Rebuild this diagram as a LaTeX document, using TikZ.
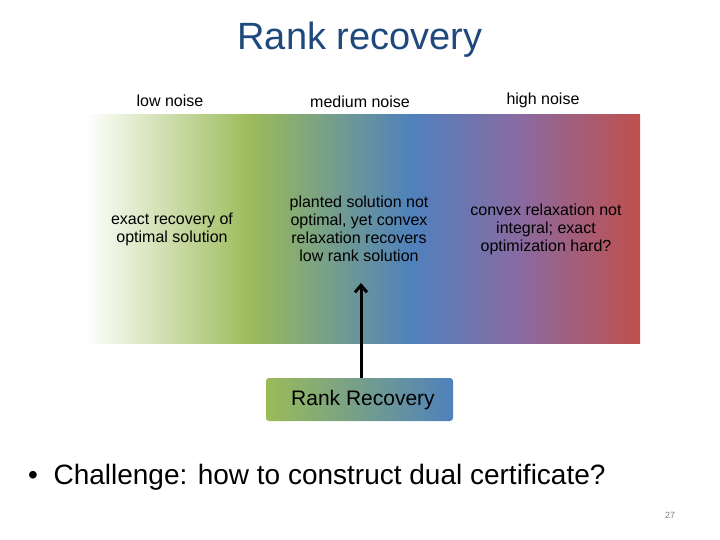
\documentclass[tikz,border=0pt]{standalone}
\usepackage{fontspec}
\setmainfont{Liberation Sans}
\usetikzlibrary{arrows.meta}
\definecolor{titleblue}{HTML}{1F497D}
\definecolor{ogreen}{HTML}{9BBB59}
\definecolor{oblue}{HTML}{4F81BD}
\definecolor{opurple}{HTML}{8A6AA0}
\definecolor{ored}{HTML}{C0504D}
\tikzset{
  lbl/.style={align=center, font=\fontsize{16}{18}\selectfont, inner sep=0pt},
}
\begin{document}
\begin{tikzpicture}[x=1pt,y=-1pt]
\useasboundingbox (0,0) rectangle (720,540);
% gradient band
\shade[left color=white, right color=ogreen] (85,115) rectangle (252,343);
\shade[left color=ogreen, right color=oblue] (251,115) rectangle (412,343);
\shade[left color=oblue, right color=opurple] (411,115) rectangle (522,343);
\shade[left color=opurple, right color=ored] (521,115) rectangle (640,343);

\node (title) at (360,40) {\fontsize{38}{40}\selectfont\color{titleblue}Rank recovery};

\node[lbl] (lo) at (170,101) {low noise};
\node[lbl] (me) at (360,102) {medium noise};
\node[lbl] (hi) at (543,100) {high noise};

\node[lbl] (t1) at (172,229) {exact recovery of\\optimal solution};
\node[lbl] (t2) at (359,229) {planted solution not\\optimal, yet convex\\relaxation recovers\\low rank solution};
\node[lbl] (t3) at (546,229) {convex relaxation not\\integral; exact\\optimization hard?};

\shade[left color=ogreen, right color=oblue, rounded corners=3pt] (266,378) rectangle (453,421);
\node[font=\fontsize{21}{24}\selectfont, inner sep=0pt] (rr) at (363,400) {Rank Recovery};
\coordinate (top) at (361,283);
\draw[line width=3pt, -{Straight Barb[length=7pt,width=12pt]}] (361,378) -- (top);

\node[anchor=west, font=\fontsize{28}{32}\selectfont, inner sep=0pt] (ch) at (28,477) {\textbullet\ \ Challenge: how to construct dual certificate?};
\node[font=\fontsize{9}{10}\selectfont, text=gray] (pg) at (670,515) {27};
\end{tikzpicture}
\end{document}
